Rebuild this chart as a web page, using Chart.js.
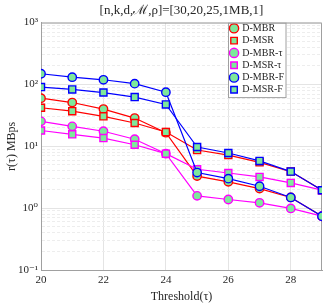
<!DOCTYPE html>
<html>
<head>
<meta charset="utf-8">
<script src="https://cdn.jsdelivr.net/npm/chart.js@4.4.1/dist/chart.umd.min.js"></script>
<style>
  html, body { margin: 0; padding: 0; background: #fff; }
  canvas { display: block; }
</style>
</head>
<body>
<canvas id="chart" width="332" height="305"></canvas>
<script>
// thresholds on the x axis
const thresholds = [20, 21, 22, 23, 24, 25, 26, 27, 28, 29]

// r(tau) in MBps
const dMBR = [60, 51, 40, 28.6, 16.6, 3.3, 2.66, 2.07, 1.49, 0.74]
const dMSR = [42, 37, 30.5, 23.8, 17, 8.7, 7.2, 5.5, 3.9, 1.95]
const dMBRtau = [25.3, 21, 17.5, 13, 7.6, 1.58, 1.38, 1.22, 0.99, 0.74]
const dMSRtau = [18, 15.6, 13.6, 10.6, 7.6, 4.26, 3.7, 3.2, 2.56, 1.95]
const dMBRF = [149, 131, 119, 103, 75, 3.76, 3.0, 2.26, 1.49, 0.74]
const dMSRF = [90.6, 83, 74, 62.5, 47.5, 9.75, 7.8, 5.8, 3.9, 1.95]

const seriesNames = ["D-MBR", "D-MSR", "D-MBR-\u03c4", "D-MSR-\u03c4", "D-MBR-F", "D-MSR-F"]
const seriesData = [dMBR, dMSR, dMBRtau, dMSRtau, dMBRF, dMSRF]
const seriesColors = ["#ff0000", "#ff0000", "#ff00ff", "#ff00ff", "#0000ff", "#0000ff"]
const seriesMarkers = ["circle", "rect", "circle", "rect", "circle", "rect"]

// axis ticks
const xTicks = [20, 22, 24, 26, 28]
const yDecades = [0.1, 1, 10, 100, 1000]
const yDecadeLabels = ["10\u207b\u00b9", "10\u2070", "10\u00b9", "10\u00b2", "10\u00b3"]

const FILL = "#7ee89b"
const AXIS = "#a0a0a0"
const TEXT = "#262626"
const SERIF = "'Liberation Serif', 'DejaVu Serif', serif"

// minor ticks 1..9 per decade for the log axis
const yMinor = []
yDecades.slice(0, -1).forEach((d) => {
  for (let m = 1; m < 10; m++) yMinor.push(Number((m * d).toPrecision(3)))
})
yMinor.push(yDecades[yDecades.length - 1])

const decadeIndex = (v) => yDecades.findIndex((d) => Math.abs(v / d - 1) < 1e-6)

const datasets = seriesNames.map((name, i) => ({
  label: name,
  data: seriesData[i].map((y, j) => ({ x: thresholds[j], y })),
  borderColor: seriesColors[i],
  backgroundColor: seriesColors[i],
  borderWidth: 1.2,
  tension: 0,
  pointStyle: seriesMarkers[i],
  pointRadius: seriesMarkers[i] === "rect" ? 5 : 4.2,
  pointBackgroundColor: FILL,
  pointBorderColor: seriesColors[i],
  pointBorderWidth: 1.4,
  order: seriesNames.length - i, // later series on top, like the original
}))

// legend sits inside the plot with a white box; top/right axis lines
const framePlugin = {
  id: "frame",
  afterLayout(chart) {
    const lg = chart.legend
    const a = chart.chartArea
    if (!lg) return
    lg.left = a.right - 93.5
    lg.top = a.top - 1.6
    if (!lg._framed) {
      const draw = lg.draw.bind(lg)
      lg.draw = function () {
        const c = chart.ctx
        const ar = chart.chartArea
        c.save()
        c.fillStyle = "#fff"
        c.strokeStyle = AXIS
        c.lineWidth = 1
        c.fillRect(ar.right - 94, ar.top, 58, 75)
        c.strokeRect(ar.right - 93.5, ar.top + 0.5, 57.5, 74.5)
        c.restore()
        draw()
      }
      lg._framed = true
    }
  },
  beforeDatasetsDraw(chart) {
    const a = chart.chartArea
    const c = chart.ctx
    c.save()
    c.strokeStyle = AXIS
    c.lineWidth = 1
    c.beginPath()
    c.moveTo(a.left, a.top + 0.5)
    c.lineTo(a.right - 0.5, a.top + 0.5)
    c.lineTo(a.right - 0.5, a.bottom)
    c.stroke()
    c.restore()
  },
}

const ctx = document.getElementById("chart").getContext("2d")

new Chart(ctx, {
  type: "line",
  data: { labels: thresholds, datasets },
  plugins: [framePlugin],
  options: {
    responsive: false,
    animation: false,
    devicePixelRatio: 1,
    layout: { padding: { left: 0, right: 10, top: 0, bottom: 0 } },
    plugins: {
      title: {
        display: true,
        text: "[n,k,d,\u2133,\u03c1]=[30,20,25,1MB,1]",
        color: TEXT,
        fullSize: false,
        font: { family: SERIF, size: 13, weight: "normal" },
        padding: { top: 3, bottom: 4 },
      },
      legend: {
        position: "chartArea",
        align: "start",
        reverse: true,
        labels: {
          usePointStyle: true,
          boxWidth: 6.5,
          boxHeight: 6.5,
          padding: 2.3,
          color: TEXT,
          font: { family: SERIF, size: 10 },
        },
      },
      tooltip: { enabled: false },
    },
    scales: {
      x: {
        type: "linear",
        min: 20,
        max: 29,
        afterBuildTicks: (s) => { s.ticks = xTicks.map((v) => ({ value: v })) },
        afterFit: (s) => { s.height = 35 },
        ticks: { color: TEXT, font: { family: SERIF, size: 11 }, padding: 4, maxRotation: 0, autoSkip: false },
        grid: { color: "#e4e4e4", drawTicks: false },
        border: { color: AXIS },
        title: {
          display: true,
          text: "Threshold(\u03c4)",
          color: TEXT,
          font: { family: SERIF, size: 12 },
          padding: { top: 0, bottom: 1 },
        },
      },
      y: {
        type: "logarithmic",
        min: 0.1,
        max: 1000,
        afterBuildTicks: (s) => { s.ticks = yMinor.map((v) => ({ value: v })) },
        afterFit: (s) => { s.width = 41 },
        ticks: {
          color: TEXT,
          font: { family: SERIF, size: 11 },
          padding: 3,
          autoSkip: false,
          callback: (v) => {
            const k = decadeIndex(v)
            return k >= 0 ? yDecadeLabels[k] : ""
          },
        },
        grid: {
          drawTicks: false,
          color: (c) => (c.tick && decadeIndex(c.tick.value) >= 0 ? "#e4e4e4" : "#ededed"),
        },
        border: {
          color: AXIS,
          dash: (c) => (c.tick && decadeIndex(c.tick.value) >= 0 ? [] : [3, 2]),
        },
        title: {
          display: true,
          text: "r(\u03c4) MBps",
          color: TEXT,
          font: { family: SERIF, size: 12 },
          padding: { top: 5, bottom: 0 },
        },
      },
    },
  },
})
</script>
</body>
</html>
